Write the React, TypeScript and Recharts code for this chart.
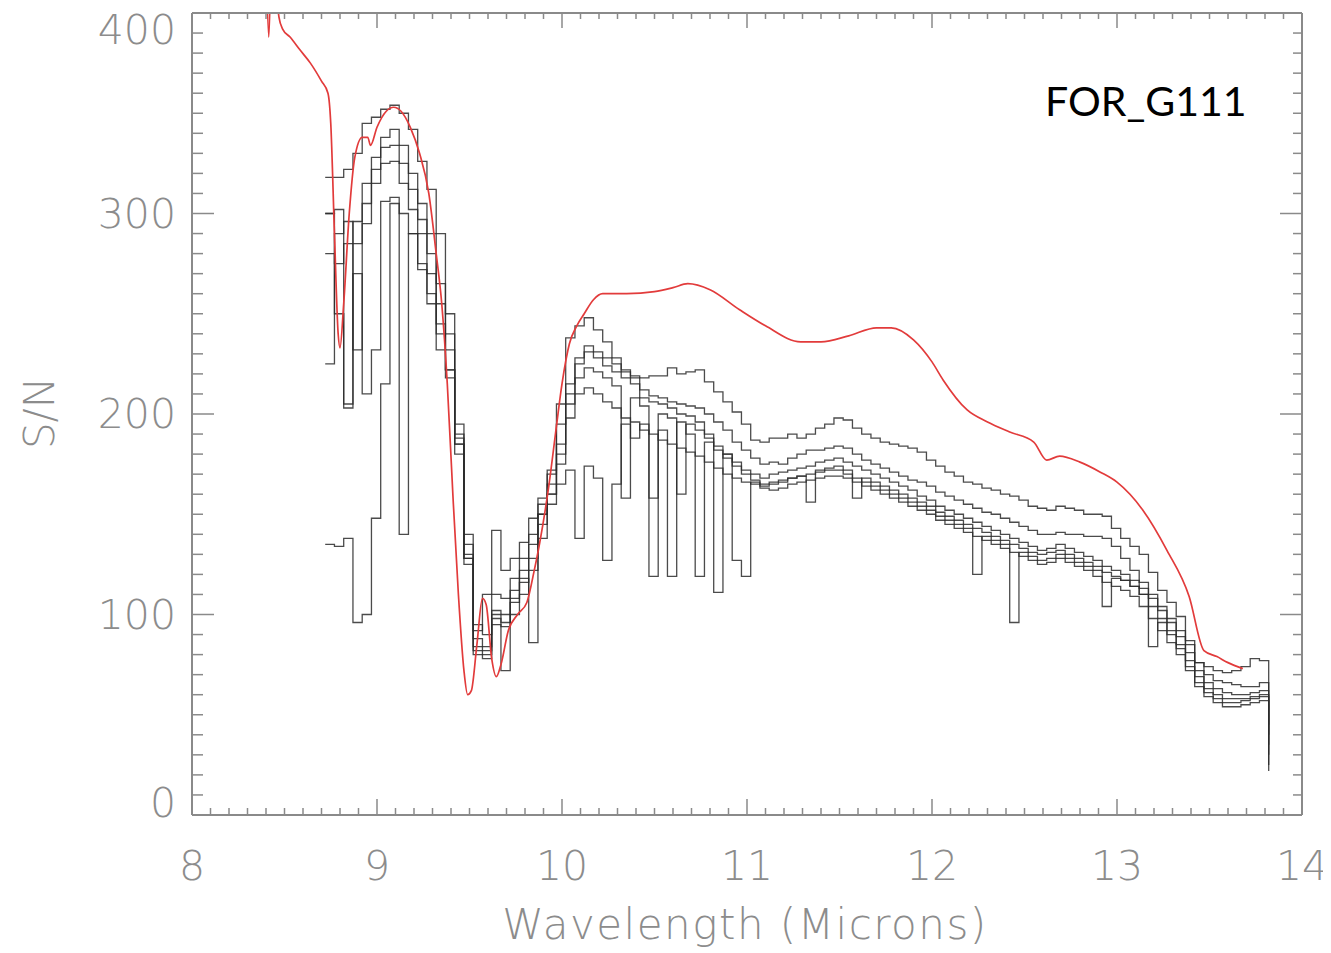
import { LineChart, Line, XAxis, YAxis } from 'recharts'

// wavelength grid of the measured spectra (microns)
const wavelength = [
  8.72, 8.77, 8.82, 8.87, 8.92, 8.97, 9.02, 9.07, 9.12, 9.17,
  9.22, 9.27, 9.32, 9.37, 9.42, 9.47, 9.52, 9.57, 9.62, 9.67,
  9.72, 9.77, 9.82, 9.87, 9.92, 9.97, 10.02, 10.07, 10.12, 10.17,
  10.22, 10.27, 10.32, 10.37, 10.42, 10.47, 10.52, 10.57, 10.62, 10.67,
  10.72, 10.77, 10.82, 10.87, 10.92, 10.97, 11.02, 11.07, 11.12, 11.17,
  11.22, 11.27, 11.32, 11.37, 11.42, 11.47, 11.52, 11.57, 11.62, 11.67,
  11.72, 11.77, 11.82, 11.87, 11.92, 11.97, 12.02, 12.07, 12.12, 12.17,
  12.22, 12.27, 12.32, 12.37, 12.42, 12.47, 12.52, 12.57, 12.62, 12.67,
  12.72, 12.77, 12.82, 12.87, 12.92, 12.97, 13.02, 13.07, 13.12, 13.17,
  13.22, 13.27, 13.32, 13.37, 13.42, 13.47, 13.52, 13.57, 13.62, 13.67,
  13.72, 13.77, 13.82,
]

const snA = [
  318, 318, 322, 330, 345, 348, 352, 354, 350, 342,
  326, 312, 290, 250, 185, 125, 92, 110, 142, 122,
  128, 136, 148, 158, 172, 205, 238, 244, 248, 242,
  236, 228, 221, 219, 218, 219, 219, 223, 220, 221,
  222, 216, 211, 206, 201, 195, 187, 186, 188, 188,
  190, 188, 190, 193, 195, 198, 197, 193, 190, 188,
  186, 185, 184, 183, 181, 177, 174, 171, 169, 166,
  165, 163, 162, 160, 159, 157, 154, 153, 152, 154,
  153, 152, 150, 150, 149, 143, 138, 134, 130, 121,
  112, 106, 99, 87, 76, 74, 72, 71, 72, 74,
  78, 77, 40,
]

const snB = [
  300, 302, 205, 296, 315, 328, 338, 342, 334, 320,
  305, 290, 265, 240, 195, 140, 95, 90, 110, 108,
  118, 128, 140, 155, 170, 195, 215, 228, 234, 231,
  228, 225, 222, 218, 212, 209, 208, 206, 205, 204,
  203, 200, 196, 192, 186, 182, 178, 175, 176, 175,
  178, 180, 182, 182, 183, 184, 183, 180, 177, 175,
  173, 171, 169, 167, 166, 164, 161, 159, 157, 155,
  153, 151, 150, 148, 146, 144, 142, 140, 140, 141,
  140, 140, 139, 139, 138, 134, 128, 122, 116, 110,
  104, 98, 92, 85, 76, 70, 67, 66, 65, 64,
  64, 66, 45,
]

const snC = [
  225, 290, 296, 285, 305, 322, 333, 334, 325, 312,
  297, 280, 255, 232, 190, 135, 88, 84, 102, 100,
  112, 122, 135, 150, 165, 185, 210, 225, 231, 228,
  224, 221, 218, 215, 208, 206, 205, 203, 200, 199,
  196, 190, 184, 180, 176, 172, 170, 168, 170, 171,
  172, 173, 174, 176, 177, 178, 176, 174, 172, 170,
  168, 166, 164, 162, 159, 157, 154, 152, 150, 148,
  146, 144, 142, 140, 138, 136, 134, 132, 133, 135,
  133, 131, 129, 127, 124, 122, 120, 117, 113, 108,
  102, 96, 89, 81, 72, 66, 63, 61, 60, 60,
  61, 62, 35,
]

const snD = [
  280, 275, 285, 232, 295, 315, 325, 326, 315, 302,
  290, 270, 245, 222, 185, 130, 82, 80, 98, 96,
  106, 116, 128, 145, 160, 180, 205, 218, 223, 221,
  218, 214, 158, 208, 204, 158, 200, 198, 160, 195,
  192, 188, 182, 178, 174, 170, 167, 165, 166, 167,
  168, 169, 156, 172, 173, 174, 172, 158, 168, 166,
  164, 162, 160, 158, 156, 154, 151, 149, 147, 145,
  143, 141, 139, 137, 135, 133, 131, 130, 131, 132,
  130, 128, 126, 124, 121, 119, 117, 114, 110, 104,
  98, 92, 85, 77, 69, 63, 60, 58, 58, 58,
  59, 60, 30,
]

const snE = [
  300, 250, 203, 270, 210, 232, 306, 308, 300, 290,
  275, 260, 240, 222, 188, 128, 80, 78, 95, 94,
  100, 110, 122, 138, 155, 175, 198, 210, 213, 210,
  206, 203, 198, 196, 192, 190, 187, 185, 183, 181,
  179, 176, 173, 170, 168, 166, 165, 164, 165, 166,
  168, 169, 170, 171, 172, 172, 170, 168, 166, 164,
  162, 160, 158, 156, 154, 152, 149, 147, 145, 143,
  120, 139, 137, 135, 96, 131, 129, 127, 128, 130,
  128, 126, 124, 122, 104, 118, 117, 114, 110, 84,
  96, 90, 83, 74, 66, 61, 58, 56, 56, 57,
  58, 59, 25,
]

const snF = [
  135, 134, 138, 96, 100, 148, 215, 305, 140, 290,
  272, 255, 232, 218, 180, 128, 84, 82, 100, 72,
  108, 118, 86, 150, 160, 165, 172, 138, 174, 168,
  127, 165, 195, 188, 195, 119, 192, 119, 196, 190,
  119, 186, 111, 180, 127, 119, 166, 163, 162, 163,
  165, 166, 167, 168, 169, 169, 168, 166, 164, 162,
  160, 158, 156, 154, 152, 150, 147, 145, 143, 141,
  139, 137, 135, 133, 131, 129, 127, 125, 126, 128,
  126, 124, 122, 119, 116, 114, 112, 109, 104, 98,
  92, 86, 80, 72, 64, 59, 56, 54, 54, 55,
  56, 57, 22,
]

// model prediction (red curve)
const modelWavelength = [
  8.40, 8.415, 8.43, 8.455, 8.47, 8.49, 8.53, 8.58, 8.64, 8.70,
  8.735, 8.75, 8.77, 8.79, 8.80, 8.82, 8.85, 8.88, 8.92, 8.95,
  8.965, 9.0, 9.05, 9.09, 9.13, 9.18, 9.23, 9.28, 9.32, 9.35,
  9.38, 9.41, 9.44, 9.47, 9.49, 9.51, 9.54, 9.57, 9.59, 9.62,
  9.645, 9.67, 9.71, 9.76, 9.81, 9.85, 9.88, 9.93, 9.97, 10.0,
  10.04, 10.08, 10.12, 10.17, 10.22, 10.35, 10.5, 10.6, 10.68, 10.8,
  10.96, 11.1, 11.29, 11.4, 11.55, 11.7, 11.78, 11.9, 12.0, 12.06,
  12.19, 12.3, 12.42, 12.55, 12.62, 12.69, 12.8, 12.91, 13.0, 13.14,
  13.27, 13.39, 13.47, 13.54, 13.6, 13.68,
]
const modelSN = [
  430, 388, 430, 410, 398, 392, 388, 382, 375, 366,
  360, 345, 290, 240, 233, 255, 300, 328, 338, 338,
  334, 343, 351, 353, 351, 343, 330, 310, 280, 255,
  215, 160, 110, 72, 60, 62, 85, 108, 105, 78,
  69, 75, 92, 100, 106, 122, 136, 165, 194, 215,
  235, 244, 250, 257, 260, 260, 261, 263, 265, 262,
  252, 244, 236, 236, 239, 243, 243, 237, 226, 217,
  202, 196, 191, 186, 177, 179, 176, 171, 166, 152,
  132, 109, 82, 79, 76, 73,
]

const xTicks = Array.from({ length: 61 }, (_, i) => Math.round((8 + i * 0.1) * 10) / 10)
const yTicks = Array.from({ length: 41 }, (_, i) => i * 10)

const spectra = [snA, snB, snC, snD, snE, snF].map((sn) =>
  wavelength.map((w, i) => ({ w, sn: sn[i] }))
)
const model = modelWavelength.map((w, i) => ({ w, sn: modelSN[i] }))

const AXIS = '#8a8a8a'
const LABEL = '#8c8c8c'
const FONT = '"DejaVu Sans", sans-serif'

const isMajorX = (v: number) => Math.abs(v - Math.round(v)) < 1e-6
const isMajorY = (v: number) => v % 100 === 0

function BottomTick({ x, y, payload }: any) {
  const v = payload.value
  const major = isMajorX(v)
  return (
    <g>
      <line x1={x} y1={y} x2={x} y2={y - (major ? 16 : 7)} stroke={AXIS} strokeWidth={1.5} />
      {major && (
        <text x={x} y={y + 51} textAnchor="middle" dominantBaseline="central"
          fill={LABEL} fontSize={41} fontFamily={FONT} fontWeight={200}>
          {v}
        </text>
      )}
    </g>
  )
}

function TopTick({ x, y, payload }: any) {
  const major = isMajorX(payload.value)
  return <line x1={x} y1={y} x2={x} y2={y + (major ? 15 : 6)} stroke={AXIS} strokeWidth={1.5} />
}

function LeftTick({ x, y, payload }: any) {
  const v = payload.value
  const major = isMajorY(v)
  const dy = v === 400 ? 17 : v === 0 ? -12 : 0
  return (
    <g>
      <line x1={x} y1={y} x2={x + (major ? 22 : 11)} y2={y} stroke={AXIS} strokeWidth={1.5} />
      {major && (
        <text x={x - 16} y={y + dy} textAnchor="end" dominantBaseline="central"
          fill={LABEL} fontSize={41} fontFamily={FONT} fontWeight={200}>
          {v}
        </text>
      )}
    </g>
  )
}

function RightTick({ x, y, payload }: any) {
  const major = isMajorY(payload.value)
  return <line x1={x} y1={y} x2={x - (major ? 22 : 9)} y2={y} stroke={AXIS} strokeWidth={1.5} />
}

export default function App() {
  // pull the figure over the body margin so that it uses the whole window
  return (
    <div style={{ position: 'relative', width: 1331, height: 953, margin: '-8px 0 0 -8px' }}>
      <LineChart width={1331} height={953} margin={{ top: 8, right: 9, bottom: 38, left: 0 }}>
        <XAxis xAxisId="b" dataKey="w" type="number" domain={[8, 14]} ticks={xTicks} interval={0}
          allowDataOverflow height={100} tickSize={0} tickMargin={0} tickLine={false}
          axisLine={{ stroke: AXIS, strokeWidth: 2 }} tick={<BottomTick />} />
        <XAxis xAxisId="t" orientation="top" dataKey="w" type="number" domain={[8, 14]} ticks={xTicks}
          interval={0} allowDataOverflow height={5} tickSize={0} tickMargin={0} tickLine={false}
          axisLine={{ stroke: AXIS, strokeWidth: 2 }} tick={<TopTick />} />
        <YAxis yAxisId="l" type="number" domain={[0, 400]} ticks={yTicks} interval={0} allowDataOverflow
          width={192} tickSize={0} tickMargin={0} tickLine={false}
          axisLine={{ stroke: AXIS, strokeWidth: 2 }} tick={<LeftTick />} />
        <YAxis yAxisId="r" orientation="right" type="number" domain={[0, 400]} ticks={yTicks} interval={0}
          allowDataOverflow width={20} tickSize={0} tickMargin={0} tickLine={false}
          axisLine={{ stroke: AXIS, strokeWidth: 2 }} tick={<RightTick />} />
        {spectra.map((d, k) => (
          <Line key={k} xAxisId="b" yAxisId="l" data={d} dataKey="sn" type="stepAfter"
            stroke="#2b2b2b" strokeWidth={1.3} strokeOpacity={0.85} dot={false} activeDot={false}
            isAnimationActive={false} />
        ))}
        <Line xAxisId="b" yAxisId="l" data={model} dataKey="sn" type="monotone" stroke="#e23b3b"
          strokeWidth={1.7} dot={false} activeDot={false} isAnimationActive={false} />
      </LineChart>
      <div style={{ position: 'absolute', left: 745, top: 925, transform: 'translate(-50%, -50%)',
        fontFamily: FONT, fontWeight: 200, fontSize: 42, letterSpacing: 1.5, color: LABEL,
        whiteSpace: 'nowrap', lineHeight: 1 }}>
        Wavelength (Microns)
      </div>
      <div style={{ position: 'absolute', left: 40, top: 413, transform: 'translate(-50%, -50%) rotate(-90deg)',
        fontFamily: FONT, fontWeight: 200, fontSize: 42, color: LABEL, whiteSpace: 'nowrap', lineHeight: 1 }}>
        S/N
      </div>
      <div style={{ position: 'absolute', left: 1045, top: 100, transform: 'translateY(-50%)',
        fontFamily: 'Lato, "Open Sans", sans-serif', fontSize: 41, color: '#000', whiteSpace: 'nowrap',
        lineHeight: 1 }}>
        FOR_G111
      </div>
    </div>
  )
}
